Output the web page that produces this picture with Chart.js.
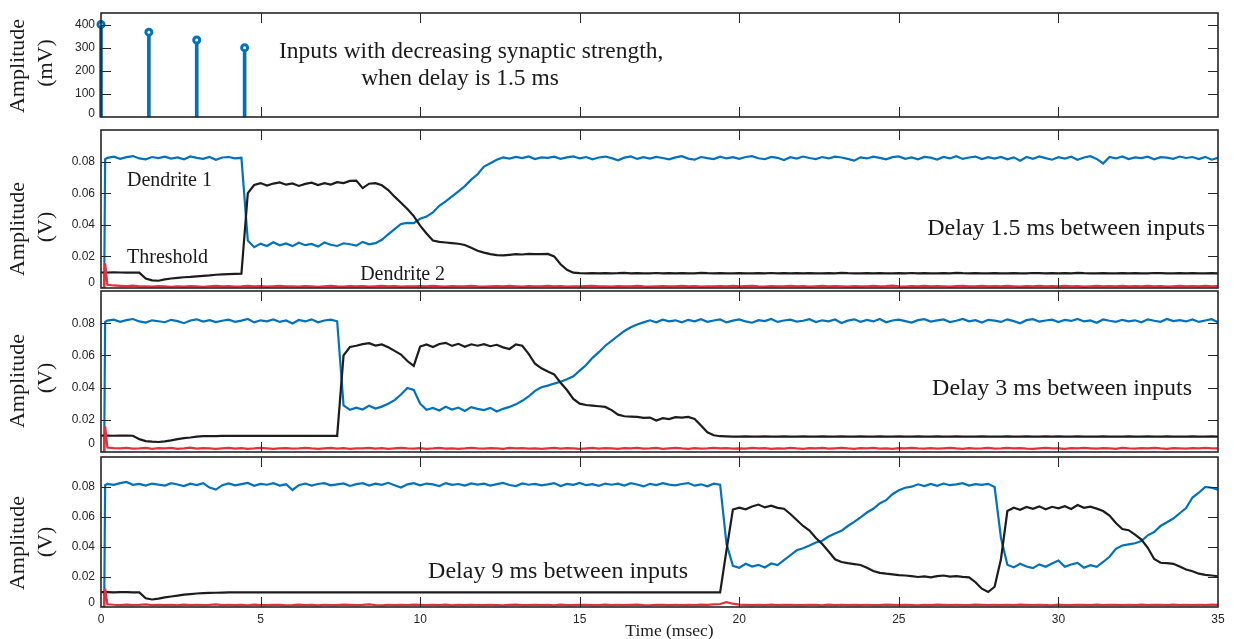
<!DOCTYPE html>
<html>
<head>
<meta charset="utf-8">
<script src="https://cdn.jsdelivr.net/npm/chart.js@4/dist/chart.umd.min.js"></script>
<style>
  html, body { margin: 0; padding: 0; background: #fff; }
  #wrap { position: relative; width: 1234px; height: 639px; overflow: hidden; background: #fff; }
  #wrap canvas { position: absolute; left: 0; }
</style>
</head>
<body>
<div id="wrap">
  <canvas id="p1" width="1234" height="124" style="top:0px"></canvas>
  <canvas id="p2" width="1234" height="166" style="top:124px"></canvas>
  <canvas id="p3" width="1234" height="165" style="top:290px"></canvas>
  <canvas id="p4" width="1234" height="184" style="top:455px"></canvas>
</div>
<script>
// ---- input pulses (top panel) ----
const STEM_TIMES = [0, 1.5, 3, 4.5];          // ms
const STEM_MV    = [400, 367, 333, 300];      // mV

// ---- sample times (ms) for the recorded traces ----
const TIME = [0, 0.1, 0.13];
for (let k = 1; k <= 175; k++) TIME.push(+(k * 0.2).toFixed(2));

// Traces below are in units of 0.1 mV (value / 10000 = volts).
// Rows: [0, 0.1, 0.13, 0.2 .. 1.8], then 2 ms per row, last row 34.0 .. 35.0

// Delay 1.5 ms between inputs
const D1_A = [
  0, 0, 815, 824, 831, 818, 828, 835, 820, 814, 829, 822,
  831, 819, 826, 815, 833, 824, 817, 829, 812, 826,
  829, 820, 824, 300, 258, 281, 266, 290, 270, 282,
  265, 286, 271, 279, 262, 288, 274, 266, 283, 277,
  268, 292, 276, 284, 305, 340, 372, 405, 412, 410,
  438, 452, 478, 520, 548, 580, 612, 645, 686, 720,
  768, 790, 812, 826, 819, 830, 822, 833, 816, 827,
  824, 831, 818, 827, 833, 820, 829, 815, 826, 832,
  822, 808, 825, 833, 817, 828, 819, 830, 823, 814,
  827, 834, 819, 812, 829, 822, 816, 831, 820, 828,
  818, 829, 834, 821, 815, 830, 824, 810, 828, 819,
  832, 823, 816, 829, 820, 831, 826, 817, 806, 827,
  820, 831, 824, 814, 828, 833, 818, 827, 815, 830,
  825, 813, 829, 820, 834, 817, 826, 832, 816, 828,
  819, 830, 815, 827, 806, 829, 818, 833, 822, 812,
  828, 819, 831, 812, 826, 834, 817, 788, 829, 820,
  833, 816, 827, 822, 831, 815, 828, 825, 818, 832,
  823, 829, 816, 830, 812, 824
];
const TH_A = [
  98, 98, 98, 98, 99, 98, 97, 98, 97, 60, 48, 46,
  55, 60, 64, 68, 70, 74, 77, 80, 84, 86,
  88, 89, 90, 600, 652, 664, 648, 661, 668, 654,
  662, 646, 659, 667, 651, 663, 655, 670, 664, 678,
  680, 632, 660, 664, 650, 620, 578, 540, 500, 455,
  395, 345, 300, 292, 288, 284, 280, 272, 254, 236,
  224, 214, 208, 206, 210, 214, 212, 216, 214, 215,
  216, 200, 150, 115, 97, 94, 93, 94, 93, 94,
  93, 94, 96, 93, 94, 93, 93, 95, 93, 94,
  93, 94, 93, 93, 96, 94, 93, 94, 93, 93,
  94, 93, 93, 94, 93, 95, 93, 94, 93, 94,
  93, 94, 93, 93, 94, 93, 96, 94, 93, 93,
  94, 93, 94, 93, 93, 94, 93, 95, 93, 94,
  93, 93, 94, 93, 96, 94, 93, 94, 93, 93,
  94, 93, 93, 94, 93, 93, 95, 94, 93, 94,
  93, 94, 93, 96, 94, 93, 93, 94, 93, 93,
  94, 93, 94, 93, 93, 95, 94, 93, 93, 94,
  93, 94, 93, 93, 94, 93
];
const D2_A = [
  0, 0, 156, 20, 16, 14, 12, 15, 10, 11, 9, 12,
  10, 8, 11, 9, 12, 10, 8, 11, 13, 10,
  12, 9, 11, 14, 10, 12, 9, 11, 13, 10,
  11, 9, 12, 10, 8, 11, 13, 10, 9, 12,
  10, 12, 9, 11, 13, 10, 12, 9, 11, 10,
  12, 10, 13, 11, 9, 12, 10, 11, 13, 10,
  9, 11, 12, 10, 13, 11, 9, 12, 10, 11,
  13, 10, 12, 9, 11, 10, 12, 13, 10, 11,
  9, 12, 10, 11, 13, 10, 9, 11, 12, 10,
  11, 13, 10, 12, 9, 11, 10, 12, 11, 13,
  10, 12, 14, 11, 9, 12, 10, 11, 13, 10,
  12, 9, 11, 13, 10, 12, 11, 9, 12, 10,
  11, 13, 10, 12, 15, 11, 9, 12, 10, 13,
  10, 12, 11, 9, 12, 14, 10, 11, 13, 10,
  12, 10, 13, 11, 9, 12, 10, 14, 11, 12,
  10, 13, 11, 12, 9, 11, 13, 10, 12, 11,
  13, 10, 12, 11, 14, 10, 12, 9, 11, 13,
  11, 12, 10, 13, 11, 12
];

// Delay 3 ms between inputs
const D1_B = [
  0, 0, 808, 816, 822, 809, 819, 826, 811, 804, 818, 812,
  806, 821, 813, 800, 817, 824, 810, 819, 807, 815,
  822, 809, 816, 826, 805, 818, 812, 823, 808, 817,
  798, 820, 811, 824, 806, 817, 822, 812, 290, 262,
  275, 264, 288, 270, 282, 300, 322, 357, 398, 385,
  300, 262, 274, 258, 281, 264, 276, 255, 279, 268,
  260, 274, 252, 268, 280, 296, 318, 345, 380, 402,
  412, 425, 436, 452, 470, 505, 540, 585, 620, 660,
  690, 722, 752, 775, 792, 805, 818, 806, 822, 812,
  818, 806, 821, 812, 825, 809, 817, 823, 805, 816,
  824, 811, 803, 819, 813, 826, 808, 817, 822, 810,
  815, 825, 807, 818, 812, 823, 801, 816, 824, 809,
  820, 811, 826, 806, 817, 822, 813, 804, 819, 825,
  810, 818, 823, 807, 815, 826, 812, 819, 804, 821,
  816, 808, 824, 813, 800, 819, 825, 810, 817, 822,
  807, 820, 814, 826, 811, 817, 803, 823, 815, 809,
  821, 812, 818, 806, 824, 815, 809, 826, 813, 819,
  811, 823, 808, 817, 825, 806
];
const TH_B = [
  102, 102, 102, 102, 101, 102, 102, 101, 80, 68, 64, 62,
  66, 72, 80, 86, 90, 96, 98, 99, 99, 100,
  100, 101, 100, 100, 101, 100, 100, 101, 100, 100,
  100, 100, 101, 100, 100, 101, 100, 100, 600, 652,
  660, 670, 676, 661, 668, 650, 628, 605, 565, 535,
  655, 668, 652, 671, 678, 659, 672, 654, 669, 660,
  670, 657, 666, 650, 640, 668, 660, 610, 548, 520,
  500, 482, 430, 385, 330, 300, 292, 288, 284, 280,
  260, 232, 222, 220, 218, 212, 214, 196, 210, 204,
  216, 214, 218, 205, 165, 122, 104, 98, 97, 96,
  96, 97, 96, 96, 97, 96, 96, 97, 96, 96,
  97, 96, 96, 97, 96, 96, 97, 96, 96, 97,
  96, 96, 97, 96, 96, 97, 96, 96, 97, 96,
  96, 97, 96, 96, 97, 96, 96, 96, 97, 96,
  96, 96, 97, 96, 96, 97, 96, 96, 97, 96,
  97, 96, 96, 97, 96, 96, 96, 97, 96, 96,
  96, 97, 96, 96, 97, 96, 96, 97, 96, 96,
  96, 97, 96, 96, 97, 96
];
const D2_B = [
  0, 0, 160, 28, 24, 22, 25, 21, 23, 26, 20, 24,
  22, 25, 20, 23, 27, 21, 24, 22, 19, 23,
  25, 21, 24, 20, 22, 26, 23, 19, 22, 24,
  21, 23, 26, 22, 19, 23, 25, 21, 24, 20,
  23, 22, 25, 21, 24, 20, 23, 26, 22, 21,
  24, 20, 22, 25, 21, 23, 19, 22, 26, 23,
  21, 24, 22, 20, 25, 22, 24, 21, 23, 20,
  23, 26, 21, 24, 22, 19, 23, 25, 21, 24,
  22, 20, 24, 23, 26, 21, 22, 25, 20, 23,
  25, 22, 20, 24, 21, 23, 26, 22, 24, 21,
  23, 21, 25, 22, 24, 20, 23, 21, 25, 22,
  20, 24, 22, 26, 21, 23, 25, 22, 20, 24,
  22, 25, 21, 23, 20, 24, 22, 26, 23, 21,
  24, 21, 23, 25, 22, 20, 24, 21, 23, 26,
  21, 23, 26, 22, 24, 21, 20, 23, 25, 22,
  23, 20, 24, 22, 25, 23, 21, 24, 22, 20,
  25, 22, 21, 24, 23, 26, 22, 20, 24, 23,
  21, 24, 22, 25, 23, 22
];

// Delay 9 ms between inputs
const D1_C = [
  0, 0, 812, 820, 814, 826, 834, 815, 821, 809, 823, 816,
  810, 825, 817, 806, 822, 813, 826, 796, 783, 812,
  824, 811, 819, 827, 808, 821, 815, 826, 810, 818,
  780, 812, 823, 809, 820, 826, 811, 818, 824, 807,
  819, 826, 810, 822, 815, 828, 812, 796, 818, 825,
  811, 823, 817, 806, 826, 814, 820, 809, 824, 816,
  822, 810, 819, 827, 813, 806, 824, 815, 821, 811,
  818, 826, 807, 821, 814, 827, 812, 819, 808, 823,
  815, 822, 810, 826, 817, 804, 821, 813, 825, 816,
  811, 820, 826, 809, 818, 805, 822, 815, 420, 275,
  262, 288, 270, 281, 264, 290, 279, 312, 345, 378,
  392, 410, 430, 442, 470, 490, 508, 540, 568, 598,
  630, 655, 690, 712, 752, 778, 795, 802, 818, 806,
  820, 808, 823, 812, 817, 826, 810, 819, 814, 821,
  800, 460, 282, 264, 288, 270, 259, 284, 268, 290,
  310, 268, 283, 294, 262, 279, 268, 300, 335, 388,
  410, 418, 425, 440, 478, 500, 540, 565, 590, 625,
  660, 730, 762, 800, 795, 782
];
const TH_C = [
  99, 99, 99, 99, 98, 99, 99, 98, 97, 58, 50, 56,
  64, 70, 76, 82, 86, 90, 92, 94, 95, 96,
  97, 97, 98, 97, 97, 98, 97, 97, 98, 97,
  97, 98, 97, 97, 97, 98, 97, 97, 98, 97,
  97, 97, 98, 97, 97, 97, 98, 97, 97, 98,
  97, 97, 97, 98, 97, 97, 98, 97, 97, 97,
  98, 97, 97, 97, 98, 97, 97, 97, 98, 97,
  97, 98, 97, 97, 97, 97, 98, 97, 97, 97,
  97, 97, 98, 97, 97, 97, 97, 98, 97, 97,
  97, 97, 98, 97, 97, 98, 97, 97, 380, 650,
  662, 651, 670, 683, 664, 676, 661, 655, 620, 580,
  540, 510, 460, 420, 370, 318, 300, 292, 286, 280,
  262, 240, 228, 222, 218, 212, 210, 206, 200, 204,
  198, 206, 210, 203, 206, 201, 198, 165, 122, 100,
  135, 320, 640, 662, 648, 667, 655, 671, 652, 668,
  658, 672, 654, 680, 661, 669, 656, 640, 610, 560,
  520, 512, 482, 450, 395, 320, 295, 292, 288, 270,
  250, 238, 222, 214, 210, 205
];
const D2_C = [
  0, 0, 122, 18, 15, 13, 16, 12, 14, 17, 13, 15,
  12, 14, 11, 16, 13, 15, 12, 14, 17, 13,
  15, 12, 14, 11, 16, 13, 12, 15, 14, 11,
  13, 16, 12, 14, 11, 15, 13, 12, 16, 14,
  12, 14, 17, 13, 11, 15, 12, 14, 13, 16,
  14, 12, 15, 13, 16, 11, 14, 12, 15, 13,
  12, 15, 13, 11, 14, 16, 12, 13, 15, 12,
  14, 11, 16, 13, 12, 15, 14, 12, 13, 16,
  13, 15, 12, 14, 16, 13, 11, 15, 14, 12,
  15, 13, 14, 12, 16, 14, 17, 20, 32, 22,
  16, 14, 12, 15, 13, 16, 12, 14, 15, 13,
  12, 15, 14, 11, 16, 13, 15, 12, 14, 13,
  15, 13, 12, 16, 14, 12, 15, 13, 11, 14,
  13, 16, 14, 12, 15, 13, 12, 16, 14, 12,
  14, 12, 15, 13, 16, 14, 12, 15, 13, 11,
  16, 13, 12, 15, 14, 12, 16, 13, 15, 14,
  12, 15, 13, 16, 12, 14, 15, 13, 16, 12,
  14, 13, 15, 12, 16, 14
];

// ---- tick values ----
const X_TICKS = [0, 5, 10, 15, 20, 25, 30, 35];
const MV_TICKS = [0, 100, 200, 300, 400];
const V_TICKS = [0, 0.02, 0.04, 0.06, 0.08];

// ---- styling ----
const BLUE = '#0072BD';
const BLACK = '#1c1c1c';
const RED = '#e2313e';
const AXIS = '#262626';
const SERIF = '"Liberation Serif", "Times New Roman", serif';
const SANS = '"Liberation Sans", Arial, Helvetica, sans-serif';

// box around the plot area with inward tick marks on all four sides
const framePlugin = {
  id: 'frame',
  afterDatasetsDraw(chart) {
    const { ctx, chartArea: a, scales } = chart;
    const tl = 10;
    ctx.save();
    ctx.strokeStyle = AXIS;
    ctx.lineWidth = 1;
    ctx.beginPath();
    X_TICKS.forEach(v => {
      if (v <= scales.x.min || v >= scales.x.max) return;
      const px = Math.round(scales.x.getPixelForValue(v)) + 0.5;
      ctx.moveTo(px, a.top); ctx.lineTo(px, a.top + tl);
      ctx.moveTo(px, a.bottom); ctx.lineTo(px, a.bottom - tl);
    });
    chart.options.plugins.frame.yTicks.forEach(v => {
      if (v <= scales.y.min || v >= scales.y.max) return;
      const py = Math.round(scales.y.getPixelForValue(v)) + 0.5;
      ctx.moveTo(a.left, py); ctx.lineTo(a.left + tl, py);
      ctx.moveTo(a.right, py); ctx.lineTo(a.right - tl, py);
    });
    ctx.stroke();
    ctx.lineWidth = 1.6;
    ctx.strokeRect(a.left, a.top, a.right - a.left, a.bottom - a.top);
    // the "0" label sits a little above the bottom edge so it stays inside the panel
    const lift = chart.options.plugins.frame.zeroLift;
    ctx.fillStyle = AXIS;
    ctx.font = '12px ' + SANS;
    ctx.textAlign = 'right';
    ctx.textBaseline = 'middle';
    ctx.fillText('0', a.left - 6, scales.y.getPixelForValue(0) - lift);
    ctx.restore();
  }
};

// free text: annotations in data units, axis titles in page units
const notesPlugin = {
  id: 'notes',
  afterDraw(chart) {
    const o = chart.options.plugins.notes;
    if (!o) return;
    const { ctx, scales } = chart;
    ctx.save();
    ctx.fillStyle = '#1a1a1a';
    ctx.textBaseline = 'alphabetic';
    (o.items || []).forEach(it => {
      ctx.font = it.size + 'px ' + SERIF;
      ctx.textAlign = it.align || 'left';
      let x, y;
      if (it.page) { x = it.page[0]; y = it.page[1] - o.top; }
      else { x = scales.x.getPixelForValue(it.t); y = scales.y.getPixelForValue(it.v); }
      ctx.fillText(it.text, x, y);
    });
    (o.ylabel || []).forEach(it => {
      ctx.save();
      ctx.font = '22px ' + SERIF;
      ctx.textAlign = 'center';
      ctx.translate(it.x, it.y - o.top);
      ctx.rotate(-Math.PI / 2);
      ctx.fillText(it.text, 0, 0);
      ctx.restore();
    });
    ctx.restore();
  }
};

function xScale(showLabels, axisHeight) {
  return {
    type: 'linear', min: 0, max: 35,
    offset: false,
    display: showLabels,
    grid: { display: false, drawTicks: false, offset: false },
    border: { display: false },
    afterBuildTicks: s => { s.ticks = X_TICKS.map(v => ({ value: v })); },
    ticks: {
      padding: 5, color: AXIS, maxRotation: 0, autoSkip: false,
      font: { family: SANS, size: 12 },
      callback: v => String(v)
    },
    afterFit: s => {
      if (axisHeight !== undefined) s.height = axisHeight;
      s.paddingLeft = 0; s.paddingRight = 0;
    }
  };
}

function yScale(min, max, ticksList, fmt) {
  return {
    type: 'linear', min, max,
    grid: { display: false, drawTicks: false },
    border: { display: false },
    afterBuildTicks: s => { s.ticks = ticksList.map(v => ({ value: v })); },
    ticks: {
      padding: 6, color: AXIS, autoSkip: false,
      font: { family: SANS, size: 12 },
      // zero is written by the frame plugin
      callback: v => (v === 0 ? '' : fmt(v))
    },
    afterFit: s => { s.width = 101; s.paddingTop = 0; s.paddingBottom = 0; }
  };
}

// nudge layout padding until the plot area sits on the wanted box (canvas px)
function settle(chart, want) {
  for (let i = 0; i < 5; i++) {
    const a = chart.chartArea;
    const p = Object.assign({}, chart.options.layout.padding);
    const dt = want.top - a.top, db = a.bottom - want.bottom;
    const dl = want.left - a.left, dr = a.right - want.right;
    if (Math.abs(dt) < 0.2 && Math.abs(db) < 0.2 && Math.abs(dl) < 0.2 && Math.abs(dr) < 0.2) break;
    chart.options.layout.padding = {
      top: p.top + dt, bottom: p.bottom + db, left: p.left + dl, right: p.right + dr
    };
    chart.update();
  }
}

const baseOpts = {
  responsive: false,
  animation: false,
  events: [],
  devicePixelRatio: 1
};

function traces(blue, black, red) {
  const pts = arr => TIME.map((t, i) => ({ x: t, y: arr[i] / 10000 }));
  const line = (arr, color) => ({
    data: pts(arr), borderColor: color, borderWidth: 2.2,
    pointRadius: 0, tension: 0, fill: false
  });
  // first dataset is painted last
  return [line(red, RED), line(black, BLACK), line(blue, BLUE)];
}

const vFmt = v => v.toFixed(2);

// ---- top panel: input pulses ----
const c1 = new Chart(document.getElementById('p1'), {
  type: 'scatter',
  data: {
    datasets: [
      {
        type: 'scatter',
        data: STEM_TIMES.map((t, i) => ({ x: t, y: STEM_MV[i] })),
        pointStyle: 'circle', pointRadius: 3, borderWidth: 3,
        borderColor: BLUE, backgroundColor: '#ffffff', clip: false
      },
      {
        type: 'bar',
        data: STEM_TIMES.map((t, i) => ({ x: t, y: STEM_MV[i] })),
        backgroundColor: BLUE, borderWidth: 0, barThickness: 3, clip: false
      }
    ]
  },
  options: Object.assign({}, baseOpts, {
    layout: { padding: { top: 13, bottom: 7, left: 0, right: 16 } },
    scales: {
      x: xScale(false),
      y: yScale(0, 450, MV_TICKS, v => String(v))
    },
    plugins: {
      legend: { display: false }, tooltip: { enabled: false },
      frame: { yTicks: MV_TICKS, zeroLift: 3 },
      notes: {
        top: 0,
        items: [
          { text: 'Inputs with decreasing synaptic strength,', t: 11.6, v: 255, size: 23.5, align: 'center' },
          { text: 'when delay is 1.5 ms', t: 11.25, v: 140, size: 23.5, align: 'center' }
        ],
        ylabel: [
          { text: 'Amplitude', x: 24, y: 66 },
          { text: '(mV)', x: 52, y: 63 }
        ]
      }
    }
  }),
  plugins: [framePlugin, notesPlugin]
});
settle(c1, { top: 13, bottom: 117, left: 101, right: 1218 });

// ---- delay 1.5 ms ----
const c2 = new Chart(document.getElementById('p2'), {
  type: 'line',
  data: { datasets: traces(D1_A, TH_A, D2_A) },
  options: Object.assign({}, baseOpts, {
    layout: { padding: { top: 6, bottom: 2, left: 0, right: 16 } },
    scales: { x: xScale(false), y: yScale(0, 0.1, V_TICKS, vFmt) },
    plugins: {
      legend: { display: false }, tooltip: { enabled: false },
      frame: { yTicks: V_TICKS, zeroLift: 5 },
      notes: {
        top: 124,
        items: [
          { text: 'Dendrite 1', t: 0.815, v: 0.0646, size: 20 },
          { text: 'Threshold', t: 0.815, v: 0.0160, size: 20 },
          { text: 'Dendrite 2', t: 8.12, v: 0.0051, size: 20 },
          { text: 'Delay 1.5 ms between inputs', t: 25.89, v: 0.0335, size: 24 }
        ],
        ylabel: [
          { text: 'Amplitude', x: 24, y: 229 },
          { text: '(V)', x: 52, y: 227 }
        ]
      }
    }
  }),
  plugins: [framePlugin, notesPlugin]
});
settle(c2, { top: 6, bottom: 164, left: 101, right: 1218 });

// ---- delay 3 ms ----
const c3 = new Chart(document.getElementById('p3'), {
  type: 'line',
  data: { datasets: traces(D1_B, TH_B, D2_B) },
  options: Object.assign({}, baseOpts, {
    layout: { padding: { top: 1, bottom: 3, left: 0, right: 16 } },
    scales: { x: xScale(false), y: yScale(0, 0.1, V_TICKS, vFmt) },
    plugins: {
      legend: { display: false }, tooltip: { enabled: false },
      frame: { yTicks: V_TICKS, zeroLift: 8 },
      notes: {
        top: 290,
        items: [
          { text: 'Delay 3 ms between inputs', t: 26.04, v: 0.0354, size: 24 }
        ],
        ylabel: [
          { text: 'Amplitude', x: 24, y: 381 },
          { text: '(V)', x: 52, y: 378 }
        ]
      }
    }
  }),
  plugins: [framePlugin, notesPlugin]
});
settle(c3, { top: 1, bottom: 162, left: 101, right: 1218 });

// ---- delay 9 ms ----
const c4 = new Chart(document.getElementById('p4'), {
  type: 'line',
  data: { datasets: traces(D1_C, TH_C, D2_C) },
  options: Object.assign({}, baseOpts, {
    layout: { padding: { top: 2, bottom: 0, left: 0, right: 16 } },
    scales: { x: xScale(true, 32), y: yScale(0, 0.1, V_TICKS, vFmt) },
    plugins: {
      legend: { display: false }, tooltip: { enabled: false },
      frame: { yTicks: V_TICKS, zeroLift: 4 },
      notes: {
        top: 455,
        items: [
          { text: 'Delay 9 ms between inputs', t: 10.25, v: 0.0193, size: 24 },
          { text: 'Time (msec)', page: [669.5, 636], size: 17.5, align: 'center' }
        ],
        ylabel: [
          { text: 'Amplitude', x: 24, y: 543 },
          { text: '(V)', x: 52, y: 542 }
        ]
      }
    }
  }),
  plugins: [framePlugin, notesPlugin]
});
settle(c4, { top: 2, bottom: 152, left: 101, right: 1218 });
</script>
</body>
</html>
